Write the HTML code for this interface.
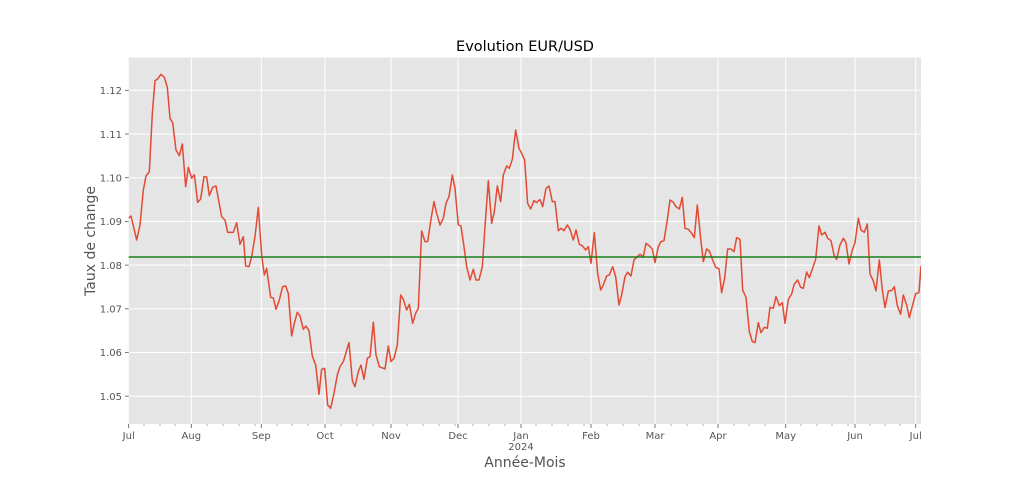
<!DOCTYPE html>
<html><head><meta charset="utf-8"><style>
body{margin:0;background:#fff;}
svg{display:block;font-family:"DejaVu Sans","Liberation Sans",sans-serif;}
</style></head><body>
<svg width="1024" height="478" viewBox="0 0 1024 478" xmlns="http://www.w3.org/2000/svg">
<defs><clipPath id="c"><rect x="128.7" y="57.5" width="792.3" height="366.5"/></clipPath></defs>
<rect x="128.7" y="57.5" width="792.3" height="366.5" fill="#E5E5E5"/>
<g stroke="#fff" stroke-width="1">
<line x1="128.7" x2="921" y1="90.3" y2="90.3"/><line x1="128.7" x2="921" y1="134" y2="134"/>
<line x1="128.7" x2="921" y1="177.7" y2="177.7"/><line x1="128.7" x2="921" y1="221.4" y2="221.4"/>
<line x1="128.7" x2="921" y1="265.1" y2="265.1"/><line x1="128.7" x2="921" y1="308.8" y2="308.8"/>
<line x1="128.7" x2="921" y1="352.5" y2="352.5"/><line x1="128.7" x2="921" y1="396.2" y2="396.2"/>
<line y1="57.5" y2="424" x1="191.3" x2="191.3"/><line y1="57.5" y2="424" x1="261.3" x2="261.3"/>
<line y1="57.5" y2="424" x1="325" x2="325"/><line y1="57.5" y2="424" x1="391" x2="391"/>
<line y1="57.5" y2="424" x1="458" x2="458"/><line y1="57.5" y2="424" x1="521" x2="521"/>
<line y1="57.5" y2="424" x1="591" x2="591"/><line y1="57.5" y2="424" x1="655" x2="655"/>
<line y1="57.5" y2="424" x1="718" x2="718"/><line y1="57.5" y2="424" x1="785.7" x2="785.7"/>
<line y1="57.5" y2="424" x1="855" x2="855"/><line y1="57.5" y2="424" x1="915.7" x2="915.7"/>
</g>
<g clip-path="url(#c)" fill="none" stroke="#E24A33" stroke-width="1.5" stroke-linejoin="round">
<polyline vector-effect="non-scaling-stroke" transform="translate(120,60) scale(0.3333)" points="25,475 33,468 50,540 60,495 70,390 78,348 88,335 97,160 105,62 112,58 123,43 133,52 142,82 150,175 158,188 168,270 178,287 187,252 197,380 205,322 215,355 223,344 233,427 242,417 252,350 260,351 268,407 278,382 288,378 305,470 315,480 323,517 340,517 350,488 360,553 370,530 377,618 387,620 395,590 405,530 415,442 425,585 433,645 440,625 452,712 460,714 468,748 478,720 488,680 497,678 505,700 515,828 523,790 532,757 540,768 550,808 558,798 567,812 577,888 587,915 597,1003 605,928 614,925 623,1035 632,1045 642,1000 652,945 660,920"/>
<polyline vector-effect="non-scaling-stroke" transform="translate(320,60) scale(0.3333)" points="60,920 70,905 87,848 97,962 105,980 115,935 123,915 132,958 142,895 150,890 160,787 168,885 178,920 195,927 205,858 213,905 222,895 232,855 242,705 250,718 260,750 268,733 278,790 287,760 295,745 305,513 315,545 323,545 333,478 342,425 350,460 360,495 370,475 378,430 387,410 397,345 405,385 415,495 423,498 432,560 440,620 450,660 460,628 468,660 477,660 487,620 495,500 505,362 515,490 523,455 532,378 542,425 550,345 560,318 568,325 577,298 587,210 597,265 605,280 614,300 623,430 632,447 642,422 650,428 660,418"/>
<polyline vector-effect="non-scaling-stroke" transform="translate(520,60) scale(0.3333)" points="60,418 68,440 78,385 87,378 97,425 105,425 115,512 123,505 132,512 142,495 150,508 160,540 168,510 178,553 187,557 197,570 205,560 213,610 223,518 233,640 242,690 250,675 260,648 268,645 278,620 287,650 297,735 305,705 315,650 323,637 333,648 342,600 350,592 360,583 370,590 378,550 387,557 397,567 405,608 415,560 423,545 432,542 442,480 450,420 460,427 468,440 478,447 487,412 495,505 505,508 515,520 523,533 532,435 542,535 550,605 560,567 568,573 578,600 587,622 597,626 605,698 614,655 623,567 633,567 642,575 650,533 660,538"/>
<polyline vector-effect="non-scaling-stroke" transform="translate(720,60) scale(0.3333)" points="60,538 68,690 78,712 88,815 97,845 105,848 115,788 123,818 133,802 142,805 150,742 160,745 168,710 178,737 187,728 195,790 205,718 215,702 223,672 233,660 242,682 250,685 260,636 268,653 278,624 287,598 297,498 305,525 315,517 323,535 333,542 342,585 350,598 360,555 370,535 378,548 387,612 397,570 405,548 415,475 423,510 433,517 442,492 450,642 460,663 468,693 478,600 487,690 495,743 505,693 515,692 523,680 532,737 542,763 550,705 560,735 568,773 578,735 587,701 597,698 603,618"/>
</g>
<line x1="128.7" x2="921" y1="257" y2="257" stroke="#1a7f1a" stroke-width="1.5"/>
<g stroke="#555" stroke-width="0.8">
<line x1="125" x2="128.7" y1="90.3" y2="90.3"/><line x1="125" x2="128.7" y1="134" y2="134"/>
<line x1="125" x2="128.7" y1="177.7" y2="177.7"/><line x1="125" x2="128.7" y1="221.4" y2="221.4"/>
<line x1="125" x2="128.7" y1="265.1" y2="265.1"/><line x1="125" x2="128.7" y1="308.8" y2="308.8"/>
<line x1="125" x2="128.7" y1="352.5" y2="352.5"/><line x1="125" x2="128.7" y1="396.2" y2="396.2"/>
<line x1="128.7" x2="128.7" y1="424" y2="428"/><line x1="191.3" x2="191.3" y1="424" y2="428"/><line x1="261.3" x2="261.3" y1="424" y2="428"/><line x1="325" x2="325" y1="424" y2="428"/><line x1="391" x2="391" y1="424" y2="428"/><line x1="458" x2="458" y1="424" y2="428"/><line x1="521" x2="521" y1="424" y2="428"/><line x1="591" x2="591" y1="424" y2="428"/><line x1="655" x2="655" y1="424" y2="428"/><line x1="718" x2="718" y1="424" y2="428"/><line x1="785.7" x2="785.7" y1="424" y2="428"/><line x1="855" x2="855" y1="424" y2="428"/><line x1="915.7" x2="915.7" y1="424" y2="428"/>
</g>
<g stroke="#777" stroke-width="0.6">
<line x1="144" x2="144" y1="424" y2="426"/><line x1="160" x2="160" y1="424" y2="426"/><line x1="175" x2="175" y1="424" y2="426"/>
<line x1="207" x2="207" y1="424" y2="426"/><line x1="223" x2="223" y1="424" y2="426"/><line x1="239" x2="239" y1="424" y2="426"/><line x1="255" x2="255" y1="424" y2="426"/>
<line x1="277" x2="277" y1="424" y2="426"/><line x1="292" x2="292" y1="424" y2="426"/><line x1="308" x2="308" y1="424" y2="426"/>
<line x1="341" x2="341" y1="424" y2="426"/><line x1="357" x2="357" y1="424" y2="426"/><line x1="373" x2="373" y1="424" y2="426"/>
<line x1="407" x2="407" y1="424" y2="426"/><line x1="423" x2="423" y1="424" y2="426"/><line x1="439" x2="439" y1="424" y2="426"/><line x1="455" x2="455" y1="424" y2="426"/>
<line x1="473" x2="473" y1="424" y2="426"/><line x1="489" x2="489" y1="424" y2="426"/><line x1="505" x2="505" y1="424" y2="426"/>
<line x1="536" x2="536" y1="424" y2="426"/><line x1="552" x2="552" y1="424" y2="426"/><line x1="568" x2="568" y1="424" y2="426"/><line x1="584" x2="584" y1="424" y2="426"/>
<line x1="607" x2="607" y1="424" y2="426"/><line x1="623" x2="623" y1="424" y2="426"/><line x1="639" x2="639" y1="424" y2="426"/>
<line x1="671" x2="671" y1="424" y2="426"/><line x1="687" x2="687" y1="424" y2="426"/><line x1="703" x2="703" y1="424" y2="426"/>
<line x1="734" x2="734" y1="424" y2="426"/><line x1="749" x2="749" y1="424" y2="426"/><line x1="765" x2="765" y1="424" y2="426"/>
<line x1="801" x2="801" y1="424" y2="426"/><line x1="817" x2="817" y1="424" y2="426"/><line x1="832" x2="832" y1="424" y2="426"/><line x1="848" x2="848" y1="424" y2="426"/>
<line x1="870" x2="870" y1="424" y2="426"/><line x1="885" x2="885" y1="424" y2="426"/><line x1="900" x2="900" y1="424" y2="426"/>
</g>
<g fill="#555" font-size="10" text-anchor="end">
<text x="122" y="94">1.12</text><text x="122" y="138">1.11</text><text x="122" y="181.5">1.10</text>
<text x="122" y="225">1.09</text><text x="122" y="269">1.08</text><text x="122" y="312.5">1.07</text>
<text x="122" y="356">1.06</text><text x="122" y="400">1.05</text>
</g>
<g fill="#555" font-size="10" text-anchor="middle">
<text x="128.7" y="439">Jul</text><text x="191.3" y="439">Aug</text><text x="261.3" y="439">Sep</text>
<text x="325" y="439">Oct</text><text x="391" y="439">Nov</text><text x="458" y="439">Dec</text>
<text x="521" y="439">Jan</text><text x="521" y="450">2024</text><text x="591" y="439">Feb</text>
<text x="655" y="439">Mar</text><text x="718" y="439">Apr</text><text x="785.7" y="439">May</text>
<text x="855" y="439">Jun</text><text x="915.7" y="439">Jul</text>
</g>
<text x="525" y="467" fill="#555" font-size="14" text-anchor="middle">Année-Mois</text>
<text transform="translate(95,241) rotate(-90)" fill="#555" font-size="14" text-anchor="middle">Taux de change</text>
<text x="525" y="51" fill="#000" font-size="14.5" text-anchor="middle">Evolution EUR/USD</text>
</svg>
</body></html>
